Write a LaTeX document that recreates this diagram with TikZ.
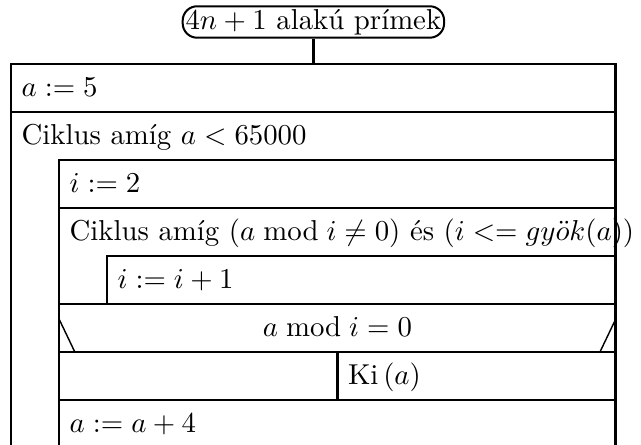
\documentclass[tikz,border=0pt]{standalone}
\usepackage{amsmath,amssymb}
\usepackage{tikz}
\usetikzlibrary{positioning, calc}

\begin{document}
\begin{tikzpicture}[
    x=0.586cm, y=0.586cm,
    frameLine/.style={line width=1pt},
    slashLine/.style={line width=0.5pt},
    rowText/.style={anchor=base west, inner sep=0pt},
    condText/.style={anchor=base, inner sep=0pt},
    titleBox/.style={draw, line width=0.7pt, rounded corners=5pt, minimum width=2.7cm, minimum height=0.378cm, inner sep=1pt}
]
\useasboundingbox (-0.229, 1.333) rectangle (13.125, -7.917);

% Start symbol
\node[titleBox] (title) at (6.3, 0.875) {$4n+1$ alakú prímek};
\coordinate (boxTop) at (6.3, 0);
\draw[frameLine] (title) -- (boxTop);

% Statements
\node[rowText] (initA) at (0.21, -0.68) {$a := 5$};
\node[rowText] (outerLoop) at (0.21, -1.68) {Ciklus amíg $a < 65000$};
\node[rowText] (initI) at (1.21, -2.68) {$i := 2$};
\node[rowText] (innerLoop) at (1.21, -3.68) {Ciklus amíg $(a \bmod i \neq 0)$ és $(i <= gy\ddot{o}k(a))$};
\node[rowText] (incI) at (2.21, -4.68) {$i := i+1$};
\node[condText] (cond) at (6.8, -5.68) {$a \bmod i = 0$};
\node[rowText] (printA) at (7.01, -6.68) {Ki$\,(a)$};
\node[rowText] (stepA) at (1.21, -7.68) {$a := a + 4$};

% Frame and blocks
\draw[frameLine] (0,-8) -- (0,0) -- (12.6,0) -- (12.6,-8) -- cycle;
\draw[frameLine] (0,-1) -- (12.6,-1);
\draw[frameLine] (1,-8) -- (1,-2) -- (12.6,-2);
\draw[frameLine] (1,-3) -- (12.6,-3);
\draw[frameLine] (2,-5) -- (2,-4) -- (12.6,-4);
\draw[frameLine] (1,-5) -- (12.6,-5);
\draw[frameLine] (1,-6) -- (12.6,-6);
\draw[frameLine] (6.8,-6) -- (6.8,-7);
\draw[frameLine] (1,-7) -- (12.6,-7);

% Branch slashes
\draw[slashLine] (1,-5.31) -- (1.33,-6);
\draw[slashLine] (12.6,-5.31) -- (12.27,-6);

\end{tikzpicture}
\end{document}
